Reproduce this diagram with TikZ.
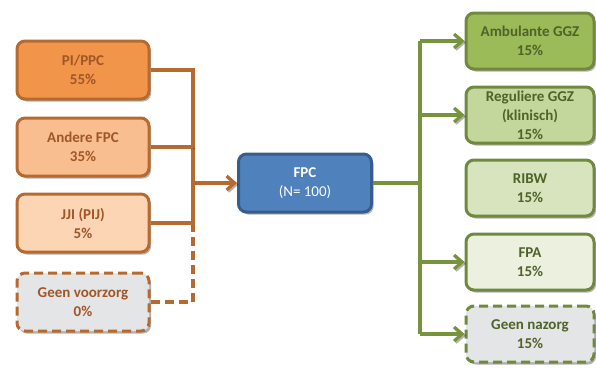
\documentclass[tikz,border=0pt]{standalone}
\usepackage{fontspec}
\setmainfont{Carlito}
\usetikzlibrary{arrows.meta,shadows,calc}
\definecolor{orA}{RGB}{241,149,74}
\definecolor{orB}{RGB}{249,190,143}
\definecolor{orC}{RGB}{252,213,181}
\definecolor{orLine}{RGB}{183,106,48}
\definecolor{orText}{RGB}{160,86,40}
\definecolor{greyFill}{RGB}{228,229,230}
\definecolor{blFill}{RGB}{79,129,189}
\definecolor{blLine}{RGB}{56,93,138}
\definecolor{grA}{RGB}{155,187,89}
\definecolor{grB}{RGB}{195,214,155}
\definecolor{grC}{RGB}{215,228,189}
\definecolor{grD}{RGB}{235,241,222}
\definecolor{grLine}{RGB}{113,137,63}
\definecolor{grText}{RGB}{79,98,40}
\definecolor{grConn}{RGB}{119,147,60}
\tikzset{
  box/.style={rounded corners=8pt, line width=3pt, align=center,
    font=\fontsize{15}{19}\selectfont\bfseries,
    drop shadow={shadow xshift=2pt, shadow yshift=-2.5pt, opacity=0.3, fill=black}},
  lbox/.style={box, draw=orLine, text=orText, minimum width=132pt, minimum height=58pt},
  rbox/.style={box, draw=grLine, text=grText, minimum width=128pt, minimum height=56pt},
  dashbox/.style={dash pattern=on 9pt off 5pt, fill=greyFill},
  bline/.style={draw=orLine, line width=3.4pt},
  gline/.style={draw=grConn, line width=3.4pt},
  tipL/.style={-{Straight Barb[length=8pt,width=14pt,line width=3.2pt]}},
  lshadow/.style={preaction={draw=black, draw opacity=0.3, transform canvas={xshift=1.5pt,yshift=-1.5pt}}},
}
\begin{document}
\begin{tikzpicture}[x=1pt,y=-1pt]
\useasboundingbox (0,0) rectangle (596,368);
% left boxes
\node[lbox, fill=orA] (pi) at (83,70) {PI/PPC\\55\%};
\node[lbox, fill=orB] (andere) at (83,147) {Andere FPC\\35\%};
\node[lbox, fill=orC] (jji) at (83,223) {JJI (PIJ)\\5\%};
\node[lbox, dashbox] (gv) at (83,302) {Geen voorzorg\\0\%};
% centre
\node[box, draw=blLine, fill=blFill, text=white, minimum width=133pt, minimum height=58pt] (fpc) at (305,183) {FPC\\\mdseries (N= 100)};
% right boxes
\node[rbox, fill=grA] (amb) at (530,41) {Ambulante GGZ\\15\%};
\node[rbox, fill=grB] (reg) at (530,115) {Reguliere GGZ\\(klinisch)\\15\%};
\node[rbox, fill=grC] (ribw) at (530,188) {RIBW\\15\%};
\node[rbox, fill=grD] (fpa) at (530,262) {FPA\\15\%};
\node[rbox, dashbox] (gn) at (530,334) {Geen nazorg\\15\%};
% left connectors
\coordinate (bl) at (193,183);
\draw[bline, lshadow] (pi.east) -| (bl |- jji.east) -- (jji.east);
\draw[bline, lshadow] (andere.east) -- (andere.east -| bl);
\draw[bline, dash pattern=on 9pt off 5pt] (bl |- jji.east) |- (gv.east);
\draw[bline, tipL, lshadow] (bl) -- (fpc.west);
% right connectors
\coordinate (br) at (420,183);
\draw[gline, lshadow] (fpc.east) -- (br);
\draw[gline, lshadow] (br |- amb.west) -- (br |- gn.west);
\draw[gline, tipL, lshadow] (br |- amb.west) -- (amb.west);
\draw[gline, tipL, lshadow] (br |- reg.west) -- (reg.west);
\draw[gline, tipL, lshadow] (br |- fpa.west) -- (fpa.west);
\draw[gline, tipL, lshadow] (br |- gn.west) -- (gn.west);
\end{tikzpicture}
\end{document}
